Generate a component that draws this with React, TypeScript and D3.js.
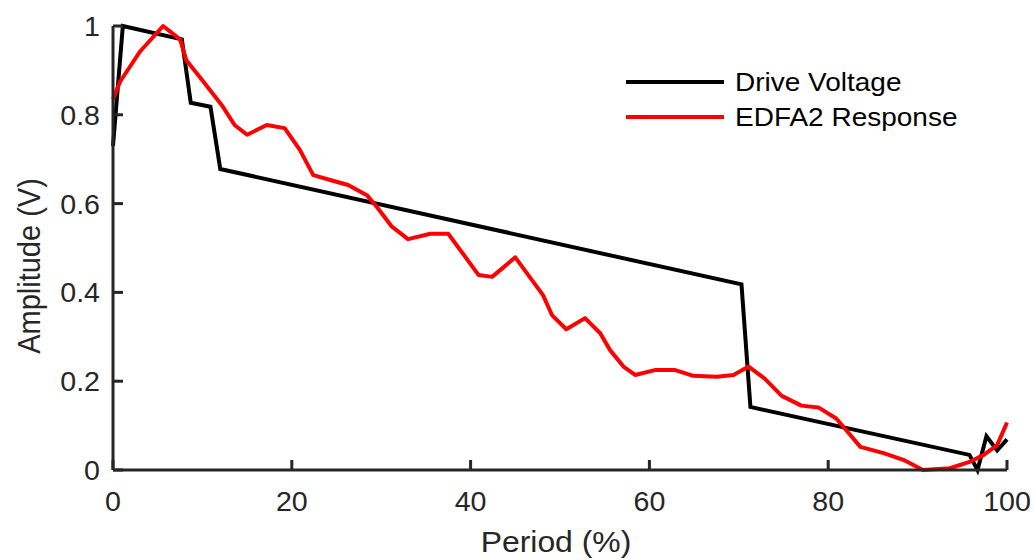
import React from "react";
import * as d3 from "d3";

const driveX = [0, 1.1, 7.7, 8.7, 10.9, 12.0, 70.3, 71.3, 95.8, 96.7, 97.7, 98.9, 100];
const driveY = [0.73, 1.0, 0.97, 0.827, 0.818, 0.678, 0.418, 0.142, 0.034, 0.0, 0.076, 0.044, 0.069];

const edfaX = [0, 0.8, 3.0, 5.6, 7.5, 8.2, 10.1, 12.3, 13.6, 15.0, 17.2, 19.2, 20.9, 22.4, 24.5, 26.3, 28.4, 29.5, 31.2, 33.0, 35.5, 37.5, 40.9, 42.4, 45.0, 46.6, 48.1, 49.1, 50.7, 52.8, 54.5, 55.6, 57.1, 58.4, 60.6, 62.9, 64.9, 67.5, 69.4, 71.1, 72.9, 74.8, 77.0, 78.9, 80.9, 82.0, 83.6, 86.2, 88.4, 90.6, 93.6, 95.9, 97.4, 98.9, 100];
const edfaY = [0.835, 0.875, 0.942, 1.0, 0.97, 0.923, 0.875, 0.818, 0.777, 0.755, 0.777, 0.77, 0.721, 0.664, 0.652, 0.642, 0.619, 0.593, 0.548, 0.52, 0.532, 0.532, 0.439, 0.435, 0.479, 0.435, 0.394, 0.349, 0.317, 0.342, 0.308, 0.27, 0.233, 0.214, 0.225, 0.225, 0.212, 0.21, 0.214, 0.233, 0.206, 0.167, 0.145, 0.141, 0.116, 0.09, 0.052, 0.038, 0.023, 0.0, 0.004, 0.019, 0.034, 0.056, 0.107];

const xTicks = [0, 20, 40, 60, 80, 100];
const yTicks = [0, 0.2, 0.4, 0.6, 0.8, 1];
const seriesNames = ["Drive Voltage", "EDFA2 Response"];
const seriesColors = ["#000000", "#ff0000"];

const W = 1034, H = 560;
const M = { left: 113, right: 27, top: 26, bottom: 90 };
const FONT = "'Liberation Sans', Arial, Helvetica, sans-serif";
const AX = "#262626";

export default function App() {
  const x = d3.scaleLinear().domain([0, 100]).range([M.left, W - M.right]);
  const y = d3.scaleLinear().domain([0, 1]).range([H - M.bottom, M.top]);
  const line = d3.line<[number, number]>().x(d => x(d[0])).y(d => y(d[1]));
  const drive = line(driveX.map((v, i) => [v, driveY[i]] as [number, number])) || "";
  const edfa = line(edfaX.map((v, i) => [v, edfaY[i]] as [number, number])) || "";
  const x0 = x(0), x1 = x(100), y0 = y(0), y1 = y(1);
  const fmt = (v: number) => (v === 0 || v === 1 ? String(v) : v.toFixed(1));

  return (
    <div style={{ position: "absolute", left: 0, top: 0 }}>
      <svg width={W} height={H} style={{ display: "block", background: "#fff" }} fontFamily={FONT}>
        <rect x={0} y={0} width={W} height={H} fill="#fff" />
        <path d={drive} fill="none" stroke={seriesColors[0]} strokeWidth={4} strokeLinejoin="miter" />
        <path d={edfa} fill="none" stroke={seriesColors[1]} strokeWidth={4} strokeLinejoin="round" />
        <line x1={x0} y1={y1} x2={x0} y2={y0} stroke={AX} strokeWidth={3} />
        <line x1={x0} y1={y0} x2={x1} y2={y0} stroke={AX} strokeWidth={3} />
        {xTicks.map(t => (
          <g key={"xt" + t}>
            <line x1={x(t)} x2={x(t)} y1={y0} y2={y0 - 10} stroke={AX} strokeWidth={3} />
            <text transform={`translate(${x(t)},${511}) scale(1.06,1)`} textAnchor="middle" fontSize={27} fill={AX}>{t}</text>
          </g>
        ))}
        {yTicks.map(t => (
          <g key={"yt" + t}>
            <line x1={x0} x2={x0 + 10} y1={y(t)} y2={y(t)} stroke={AX} strokeWidth={3} />
            <text transform={`translate(${100},${y(t) + 10}) scale(1.06,1)`} textAnchor="end" fontSize={27} fill={AX}>{fmt(t)}</text>
          </g>
        ))}
        <text transform={`translate(${(x0 + x1) / 2 - 4},${552}) scale(1.1,1)`} textAnchor="middle" fontSize={29} fill={AX}>Period (%)</text>
        <text transform={`translate(${40},${y(0.5) + 18}) scale(1.08,1) rotate(-90)`} textAnchor="middle" fontSize={29} fill={AX}>Amplitude (V)</text>
        {seriesNames.map((n, i) => (
          <g key={n}>
            <line x1={626} x2={724} y1={82 + i * 35} y2={82 + i * 35} stroke={seriesColors[i]} strokeWidth={4} />
            <text transform={`translate(${735},${91 + i * 35}) scale(1.12,1)`} fontSize={25} fill="#000">{n}</text>
          </g>
        ))}
      </svg>
    </div>
  );
}
